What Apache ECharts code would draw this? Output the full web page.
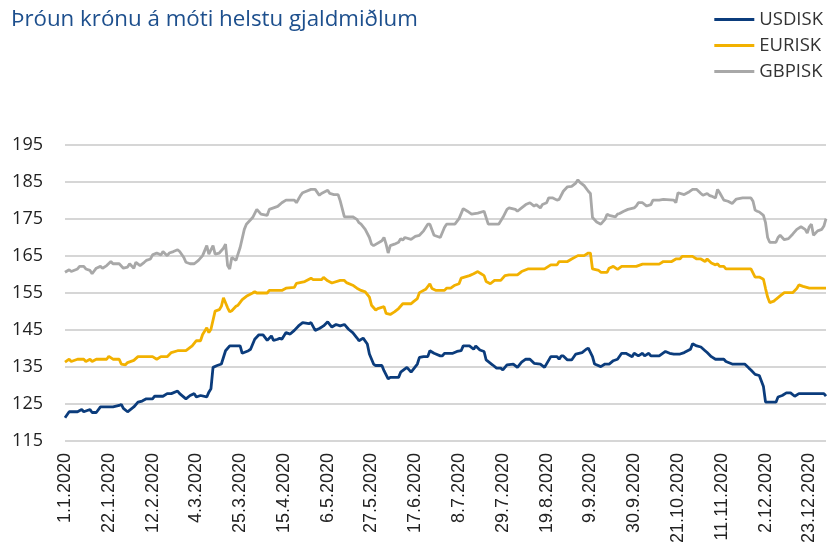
<!DOCTYPE html>
<html>
<head>
<meta charset="utf-8">
<script src="https://cdn.jsdelivr.net/npm/echarts@6/dist/echarts.min.js"></script>
<style>
  html, body { margin: 0; padding: 0; background: #fff; }
  #chart { width: 829px; height: 553px; }
</style>
</head>
<body>
<div id="chart"></div>
<script>
// gögn: [dagur ársins (0 = 1.1.2020), gildi]
const usdisk = [
  [0,121.3],[2,122.9],[6,122.9],[8,123.5],[9,122.9],[11,123.3],[12,123.5],[13,122.7],[15,122.7],[17,124.2],
  [23,124.2],[26,124.6],[27,124.9],[28,123.8],[30,122.9],[33,124.2],[35,125.5],[37,125.8],[39,126.4],[42,126.4],
  [43,127.1],[47,127.1],[49,127.8],[51,127.8],[54,128.5],[55,127.8],[58,126.4],[60,127.3],[62,127.8],[63,126.9],
  [65,127.3],[68,126.9],[69,128.2],[70,129.1],[71,134.9],[73,135.4],[75,135.8],[77,139.4],[79,140.7],[84,140.7],
  [85,138.7],[88,139.4],[89,139.8],[91,142.5],[93,143.7],[95,143.7],[97,142.2],[99,143.4],[100,142.2],[102,142.5],
  [103,142.8],[104,142.5],[106,144.3],[108,143.9],[110,144.9],[112,146.1],[114,147.0],[117,146.7],[118,147.0],[120,144.9],
  [122,145.4],[124,146.1],[126,147.2],[128,145.8],[130,146.5],[132,146.1],[134,146.5],[136,145.2],[138,144.3],[140,142.9],
  [141,142.1],[143,142.8],[145,141.2],[146,138.5],[148,135.8],[149,135.4],[152,135.4],[153,134.0],[155,131.8],[156,132.2],
  [160,132.2],[161,133.6],[164,134.9],[166,133.6],[169,135.8],[170,137.6],[172,137.8],[174,137.8],[175,139.4],[177,138.7],
  [180,138.0],[181,138.0],[182,138.7],[186,138.7],[188,139.2],[190,139.4],[191,140.7],[194,140.7],[196,139.8],[197,140.7],
  [199,139.6],[201,139.2],[202,136.9],[205,135.6],[207,134.7],[209,134.7],[210,134.2],[212,135.6],[215,135.8],[217,134.9],
  [219,136.3],[221,137.1],[223,137.1],[225,136.0],[228,135.8],[230,134.9],[233,137.8],[236,137.8],[237,137.1],[238,138.0],
  [239,138.0],[241,136.9],[243,136.9],[245,138.5],[248,138.9],[250,139.8],[251,140.1],[253,137.8],[254,135.8],[257,135.1],
  [259,135.8],[261,135.8],[263,136.7],[265,137.1],[267,138.7],[269,138.7],[272,137.8],[273,138.7],[275,138.0],[277,138.7],
  [278,138.0],[280,138.7],[281,138.0],[285,138.0],[288,139.2],[290,138.7],[292,138.5],[295,138.5],[297,138.9],[300,139.8],
  [301,141.3],[303,140.7],[305,140.4],[307,139.4],[308,138.9],[310,137.8],[312,137.1],[316,137.1],[317,136.5],[320,135.8],
  [326,135.8],[328,134.7],[329,134.2],[331,133.0],[333,132.7],[334,131.2],[335,129.7],[336,125.5],[341,125.5],[342,126.9],
  [344,127.3],[346,128.0],[348,128.0],[350,127.1],[352,127.8],[364,127.8],[365,127.1]
]

const eurisk = [
  [0,136.3],[2,137.1],[3,136.5],[6,137.1],[9,137.1],[10,136.5],[12,137.1],[13,136.5],[15,137.1],[20,137.1],
  [21,137.9],[23,137.1],[26,137.1],[27,135.8],[29,135.6],[30,136.2],[33,136.8],[35,137.8],[42,137.8],[44,137.1],
  [46,137.8],[49,137.8],[51,138.9],[54,139.4],[58,139.4],[61,140.7],[63,142.1],[65,142.1],[66,143.8],[68,145.6],
  [69,144.3],[70,145.2],[72,150.1],[74,150.5],[75,151.4],[76,153.7],[78,151.0],[79,149.9],[80,150.2],[82,151.4],
  [83,151.7],[85,153.2],[87,154.1],[90,155.0],[91,155.4],[92,155.0],[97,155.0],[98,155.7],[104,155.7],[106,156.3],
  [110,156.5],[111,157.6],[115,158.1],[118,159.0],[119,158.6],[123,158.6],[124,159.2],[126,158.3],[128,157.7],[132,158.4],
  [134,158.4],[135,157.8],[138,157.1],[140,156.3],[142,155.7],[144,155.3],[146,153.9],[147,151.7],[149,150.4],[150,150.8],
  [153,151.3],[154,149.5],[156,149.2],[158,149.9],[160,150.8],[162,152.1],[166,152.1],[167,152.6],[169,153.5],[170,155.1],
  [173,156.0],[175,157.5],[176,156.2],[178,155.7],[182,155.7],[183,156.3],[185,156.3],[187,157.1],[189,157.5],[190,159.0],
  [194,159.7],[196,160.2],[198,160.8],[199,160.4],[201,159.7],[202,158.1],[204,157.5],[206,158.4],[209,158.4],[211,159.7],
  [213,159.9],[217,159.9],[219,160.8],[222,161.5],[230,161.5],[233,162.6],[236,162.6],[237,163.5],[241,163.5],[243,164.2],
  [246,165.1],[249,165.1],[251,165.8],[252,165.8],[253,161.5],[256,161.1],[257,160.6],[260,160.6],[261,161.7],[263,162.2],
  [265,161.4],[267,162.2],[274,162.2],[277,162.8],[285,162.8],[287,163.5],[291,163.5],[293,164.2],[295,164.2],[296,164.9],
  [301,164.9],[303,164.2],[305,164.2],[307,163.5],[308,164.2],[310,163.1],[312,162.6],[313,162.9],[314,162.2],[316,162.2],
  [317,161.5],[329,161.5],[331,159.3],[333,159.3],[335,158.7],[336,156.2],[337,153.9],[338,152.4],[340,152.8],[341,153.3],
  [343,154.2],[345,155.1],[349,155.1],[351,156.2],[352,157.2],[354,156.8],[357,156.3],[365,156.3]
]

const gbpisk = [
  [0,160.6],[2,161.3],[3,160.8],[6,161.5],[7,162.2],[9,162.2],[10,161.5],[12,161.1],[13,160.2],[15,161.7],
  [17,162.2],[18,161.7],[20,162.4],[22,163.5],[23,162.9],[26,162.9],[28,161.7],[30,162.0],[31,162.9],[33,161.7],
  [34,163.3],[36,162.4],[38,163.3],[39,163.8],[41,164.2],[42,165.3],[44,165.8],[46,165.3],[47,166.2],[49,165.1],
  [50,165.8],[52,166.2],[54,166.7],[55,166.2],[57,164.6],[58,163.3],[60,162.9],[62,162.9],[64,163.8],[66,165.1],
  [68,167.8],[69,165.5],[71,167.8],[72,165.5],[74,165.8],[76,167.1],[77,168.2],[78,162.4],[79,161.5],[80,164.6],
  [81,164.2],[82,163.8],[84,167.3],[86,172.2],[87,173.6],[90,175.4],[92,177.6],[94,176.3],[97,176.0],[98,177.6],
  [102,178.4],[104,179.4],[106,180.1],[110,180.1],[111,179.4],[113,181.4],[114,182.1],[118,183.0],[120,183.0],[122,181.4],
  [123,181.9],[126,182.8],[127,181.9],[129,181.6],[131,181.6],[132,179.9],[134,175.6],[138,175.6],[140,174.9],[141,174.0],
  [142,173.6],[144,172.2],[146,170.0],[147,168.2],[148,167.8],[152,169.1],[153,170.0],[154,168.2],[155,165.8],[156,167.8],
  [158,168.2],[160,168.7],[161,169.7],[162,169.3],[163,170.0],[166,169.5],[168,170.3],[170,170.6],[172,171.8],[174,173.6],
  [175,173.6],[177,170.6],[180,170.0],[182,172.7],[183,173.6],[187,173.6],[189,175.1],[191,177.8],[193,177.1],[195,176.3],
  [198,176.6],[201,177.1],[203,173.6],[208,173.6],[210,175.4],[212,177.6],[213,178.0],[216,177.6],[217,177.1],[219,178.0],
  [221,178.9],[223,179.4],[225,178.5],[226,178.9],[228,178.0],[229,178.9],[231,179.4],[232,180.7],[234,180.7],[236,180.1],
  [237,180.3],[239,182.5],[241,183.7],[243,183.8],[245,184.7],[246,185.6],[247,184.9],[249,184.0],[251,182.5],[252,181.9],
  [253,175.4],[255,174.2],[257,173.6],[259,174.9],[260,176.3],[261,176.0],[264,175.6],[265,176.3],[266,176.5],[268,177.1],
  [270,177.6],[273,178.0],[274,178.5],[275,179.4],[277,179.4],[279,178.5],[281,178.9],[282,180.1],[285,180.1],[287,180.3],
  [292,180.1],[293,179.4],[294,182.1],[297,181.6],[299,182.2],[301,183.0],[303,183.0],[305,181.9],[306,181.4],[308,181.9],
  [309,181.4],[310,181.2],[312,180.7],[313,183.0],[314,182.1],[316,180.1],[318,179.8],[320,179.2],[322,180.4],[325,180.7],
  [329,180.7],[330,179.8],[331,177.4],[332,177.1],[333,176.9],[335,176.0],[336,174.0],[337,170.0],[338,168.7],[341,168.7],
  [342,170.0],[343,170.6],[345,169.4],[347,169.7],[349,170.9],[351,172.2],[353,172.9],[355,172.2],[356,171.2],[357,172.9],
  [358,173.6],[359,170.6],[361,171.8],[363,172.2],[364,173.1],[365,175.1]
]

const seriesNames = ['USDISK', 'EURISK', 'GBPISK']
const seriesColors = ['#0b3c7c', '#f2b100', '#a8a8a8']
const yTicks = { min: 115, max: 195, step: 10 }

// dagur ársins -> "d.m.yyyy"
const dayLabel = (n) => {
  const d = new Date(2020, 0, 1 + n)
  return d.getDate() + '.' + (d.getMonth() + 1) + '.' + d.getFullYear()
}

const mChart = echarts.init(document.getElementById('chart'))

const options = {
  animation: false,
  title: {
    text: 'Þróun krónu á móti helstu gjaldmiðlum',
    left: 6,
    top: 4,
    textStyle: {
      color: '#1d4f8d',
      fontFamily: 'Open Sans',
      fontWeight: 'normal',
      fontSize: 22.3
    }
  },
  legend: {
    data: seriesNames,
    orient: 'vertical',
    right: 1,
    top: 5,
    itemWidth: 40,
    itemHeight: 3,
    itemGap: 7,
    icon: 'rect',
    textStyle: {
      fontFamily: 'Open Sans',
      fontSize: 18.5,
      color: '#333'
    }
  },
  grid: {
    left: 65,
    right: 3,
    top: 145,
    bottom: 112,
    containLabel: false,
    outerBoundsMode: 'none'
  },
  xAxis: {
    type: 'value',
    min: 0,
    max: 365,
    interval: 21,
    axisLine: { show: false },
    axisTick: { show: false },
    splitLine: { show: false },
    axisLabel: {
      rotate: 90,
      margin: 12,
      showMaxLabel: false,
      fontFamily: 'Liberation Sans',
      fontSize: 18,
      color: '#222',
      formatter: dayLabel
    }
  },
  yAxis: {
    type: 'value',
    min: yTicks.min,
    max: yTicks.max,
    interval: yTicks.step,
    axisLine: { show: false },
    axisTick: { show: false },
    splitLine: { lineStyle: { color: '#c8c8c8', width: 1.5 } },
    axisLabel: {
      margin: 22,
      fontFamily: 'Open Sans',
      fontSize: 18,
      color: '#222'
    }
  },
  series: [usdisk, eurisk, gbpisk].map((d, i) => ({
    type: 'line',
    name: seriesNames[i],
    data: d,
    color: seriesColors[i],
    showSymbol: false,
    lineStyle: { width: 2.8, color: seriesColors[i] },
    z: 3 - i
  }))
}

mChart.setOption(options)

window.addEventListener('resize', () => {
  mChart.resize()
})
</script>
</body>
</html>
